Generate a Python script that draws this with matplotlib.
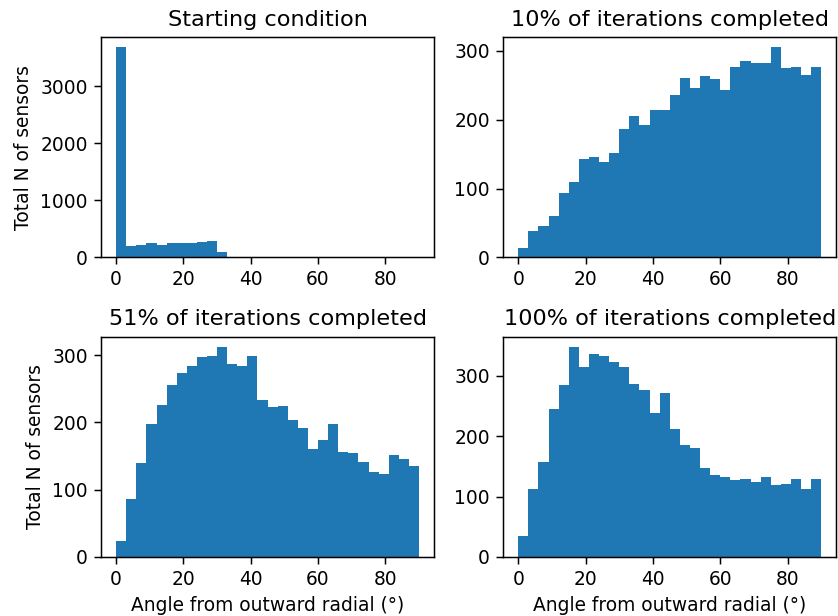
import matplotlib
matplotlib.use("Agg")
import matplotlib.pyplot as plt
import numpy as np

# 30 bins of 3 degrees from 0 to 90
bin_edges = np.linspace(0, 90, 31)

# counts per bin
start_counts = [3676, 200, 218, 253, 218, 253, 253, 253, 265, 294, 88,
                0, 0, 0, 0, 0, 0, 0, 0, 0, 0, 0, 0, 0, 0, 0, 0, 0, 0, 0]
iter10_counts = [13, 38, 45, 60, 93, 110, 143, 146, 138, 151,
                 187, 205, 193, 214, 214, 236, 261, 246, 264, 259,
                 243, 276, 286, 283, 283, 305, 275, 277, 265, 276]
iter51_counts = [24, 86, 139, 197, 226, 255, 273, 284, 297, 299,
                 312, 287, 284, 299, 233, 223, 225, 204, 191, 161,
                 174, 197, 156, 154, 141, 127, 124, 151, 145, 135]
iter100_counts = [35, 113, 158, 246, 285, 348, 315, 336, 333, 324,
                  315, 287, 276, 239, 272, 212, 185, 180, 148, 136,
                  132, 127, 129, 125, 133, 120, 121, 129, 112, 129]

titles = ["Starting condition", "10% of iterations completed",
          "51% of iterations completed", "100% of iterations completed"]
all_counts = [start_counts, iter10_counts, iter51_counts, iter100_counts]

dpi = 134
fig, axes = plt.subplots(2, 2, figsize=(838 / dpi, 616 / dpi), dpi=dpi)
fig.subplots_adjust(left=0.1205, right=0.998, top=0.94, bottom=0.0958,
                    wspace=0.207, hspace=0.359)

for ax, title, counts in zip(axes.flat, titles, all_counts):
    ax.hist(bin_edges[:-1], bins=bin_edges, weights=counts, color="#1f77b4")
    ax.set_title(title)
    ax.set_xticks([0, 20, 40, 60, 80])

axes[0, 0].set_ylabel("Total N of sensors")
axes[1, 0].set_ylabel("Total N of sensors")
axes[1, 0].set_xlabel("Angle from outward radial (°)")
axes[1, 1].set_xlabel("Angle from outward radial (°)")

plt.savefig("out.png", dpi=dpi)
